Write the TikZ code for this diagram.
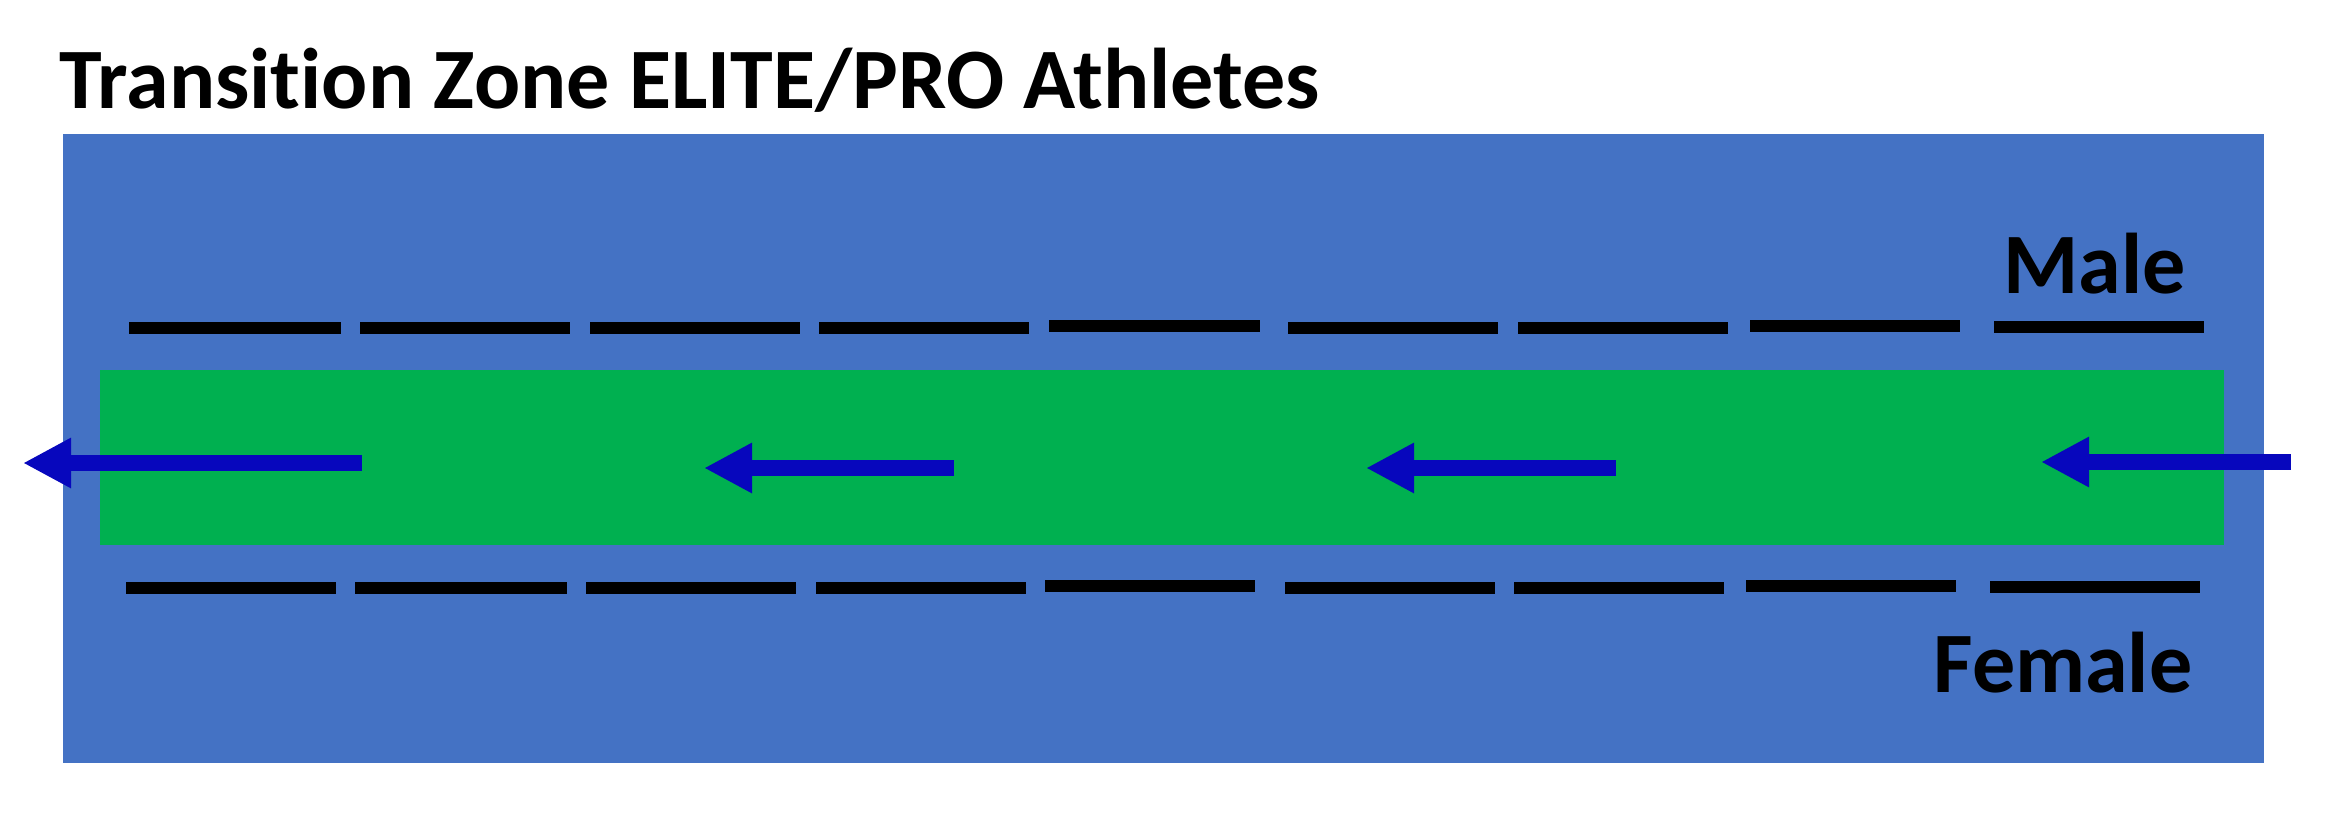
\documentclass[tikz,border=0pt]{standalone}
\usepackage{fontspec}
\setmainfont{Carlito}[Ligatures=NoCommon]
\usetikzlibrary{arrows.meta}

\definecolor{zoneblue}{RGB}{68,114,196}
\definecolor{lanegreen}{RGB}{0,176,80}
\definecolor{flowblue}{RGB}{7,7,189}

\tikzset{
  label text/.style={inner sep=0pt,anchor=base west,font=\fontsize{24.5}{28}\selectfont\bfseries},
  lane line/.style={line width=1.2mm,black},
  flow/.style={line width=1.6mm,flowblue,-{Triangle[length=4.8mm,width=4.7mm]}}
}

\begin{document}
\begin{tikzpicture}
      \useasboundingbox (0,0) rectangle (23.32,-8.28);
      \node[fill=zoneblue,minimum width=22.01cm,minimum height=6.29cm,inner sep=0pt] (zone) at (11.635,-4.485) {};
      \node[fill=lanegreen,minimum width=21.235cm,minimum height=1.754cm,inner sep=0pt] (lane) at (11.6175,-4.573) {};

      \node[label text] (title) at (0.59,-1.085) {Transition Zone ELITE/PRO Athletes};
      \node[label text] (male) at (20.03,-2.93) {Male};
      \node[label text] (female) at (19.33,-6.92) {Female};

      \foreach \a/\b/\y in {1.29/3.41/3.28, 3.60/5.70/3.28, 5.90/8.00/3.28, 8.19/10.29/3.28, 10.49/12.60/3.255,
                            12.88/14.98/3.28, 15.18/17.28/3.28, 17.50/19.60/3.255, 19.94/22.04/3.265}
        \draw[lane line] (\a,-\y) -- (\b,-\y);
      \foreach \a/\b/\y in {1.26/3.36/5.88, 3.55/5.67/5.88, 5.86/7.96/5.88, 8.16/10.26/5.88, 10.45/12.55/5.86,
                            12.85/14.95/5.88, 15.14/17.24/5.88, 17.46/19.56/5.86, 19.90/22.00/5.87}
        \draw[lane line] (\a,-\y) -- (\b,-\y);

      \coordinate (in1) at (3.62,-4.63);
      \coordinate (out1) at (0.23,-4.63);
      \coordinate (in2) at (9.54,-4.68);
      \coordinate (out2) at (7.04,-4.68);
      \coordinate (in3) at (16.16,-4.68);
      \coordinate (out3) at (13.66,-4.68);
      \coordinate (in4) at (22.91,-4.62);
      \coordinate (out4) at (20.41,-4.62);

      \draw[flow] (in1) -- (out1);
      \draw[flow] (in2) -- (out2);
      \draw[flow] (in3) -- (out3);
      \draw[flow] (in4) -- (out4);
    \end{tikzpicture}
\end{document}
